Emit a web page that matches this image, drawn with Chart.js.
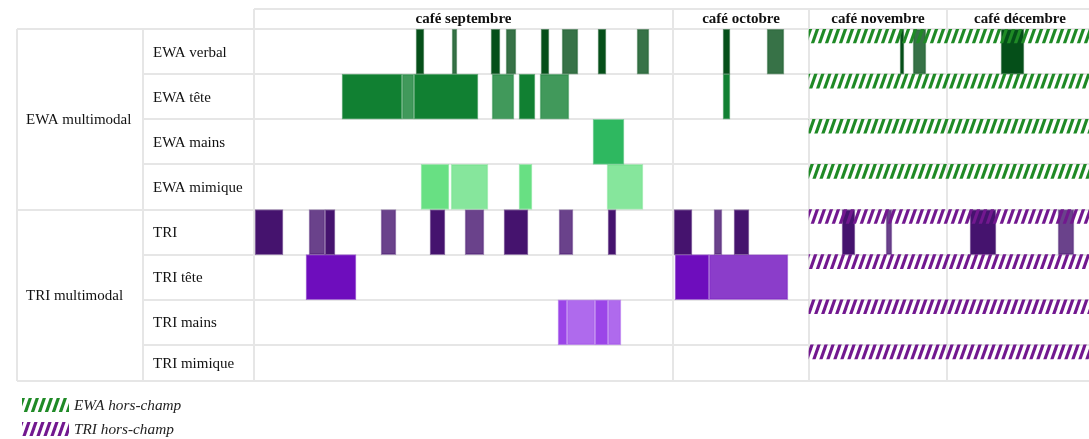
<!DOCTYPE html>
<html lang="fr">
<head>
<meta charset="utf-8">
<title>EWA / TRI multimodal</title>
<script src="https://cdn.jsdelivr.net/npm/chart.js@4.4.1/dist/chart.umd.min.js"></script>
<style>
  html, body { margin: 0; padding: 0; background: #fff; }
  #wrap { width: 1089px; height: 439px; }
</style>
</head>
<body>
<div id="wrap"><canvas id="timeline" width="1089" height="439"></canvas></div>
<script>
// Sessions along the time axis (seconds, aligned recordings)
const periods = ['café septembre', 'café octobre', 'café novembre', 'café décembre'];
const periodStarts = [0, 419, 555, 693];
const timelineEnd = 839;
const visibleEnd = 835;

const groups = ['EWA multimodal', 'TRI multimodal'];
const groupRows = [4, 4];
const rows = ['EWA verbal', 'EWA tête', 'EWA mains', 'EWA mimique', 'TRI', 'TRI tête', 'TRI mains', 'TRI mimique'];

// Annotated segments per tier, [start, end]; *Soft = lighter annotation
const ewaVerbal = [[162, 170], [237, 246], [287, 295], [344, 352], [469, 476], [646, 650], [747, 770]];
const ewaVerbalSoft = [[198, 203], [252, 262], [308, 324], [383, 395], [513, 530], [659, 672]];
const ewaTete = [[88, 148], [160, 224], [265, 281], [469, 476]];
const ewaTeteSoft = [[148, 160], [238, 260], [286, 315]];
const ewaMains = [[339, 370]];
const ewaMainsSoft = [];
const ewaMimique = [[167, 195], [265, 278]];
const ewaMimiqueSoft = [[197, 234], [353, 389]];
const tri = [[1, 29], [71, 81], [176, 191], [250, 274], [354, 362], [420, 438], [480, 495], [588, 601], [716, 742]];
const triSoft = [[55, 71], [127, 142], [211, 230], [305, 319], [460, 468], [632, 638], [804, 820]];
const triTete = [[52, 102], [421, 455]];
const triTeteSoft = [[455, 534]];
const triMains = [[304, 313], [341, 354]];
const triMainsSoft = [[313, 341], [354, 367]];
const triMimique = [];
const triMimiqueSoft = [];

// Off-camera spans
const ewaHorsChamp = [555, timelineEnd];
const triHorsChamp = [555, timelineEnd];

const FONT = "'Liberation Serif', 'Times New Roman', serif";
const LABEL_COL_X = 17;
const ROW_COL_X = 143;
const Y_MAX = 7.8;
const ROW_PX = 352 / Y_MAX;
const HATCH_PX = 14;

const canvas = document.getElementById('timeline');
const mainCtx = canvas.getContext('2d');

function rgba(c, a) { return `rgba(${c[0]}, ${c[1]}, ${c[2]}, ${a})`; }

// diagonal stripes, tile repeats cleanly both ways
function makeHatch(color) {
  const tile = document.createElement('canvas');
  tile.width = 7; tile.height = 20;
  const g = tile.getContext('2d');
  g.fillStyle = color;
  for (const o of [-7, 0, 7]) {
    g.beginPath();
    g.moveTo(o, 20);
    g.lineTo(o + 3.3, 20);
    g.lineTo(o + 10.3, 0);
    g.lineTo(o + 7, 0);
    g.closePath();
    g.fill();
  }
  return mainCtx.createPattern(tile, 'repeat');
}
const ewaHatch = makeHatch('#1f8a26');
const triHatch = makeHatch('#72188f');

const tiers = [
  [ewaVerbal, ewaVerbalSoft, [5, 79, 25]],
  [ewaTete, ewaTeteSoft, [17, 128, 50]],
  [ewaMains, ewaMainsSoft, [46, 184, 96]],
  [ewaMimique, ewaMimiqueSoft, [104, 224, 131]],
  [tri, triSoft, [69, 19, 110]],
  [triTete, triTeteSoft, [110, 13, 189]],
  [triMains, triMainsSoft, [155, 69, 232]],
  [triMimique, triMimiqueSoft, [190, 140, 240]]
];

function segs(list, row) {
  return list.map(([s, e]) => ({ x: [s, e], y: row + 0.5 }));
}

const datasets = [];
tiers.forEach(([solid, soft, c], row) => {
  datasets.push({
    label: rows[row], data: segs(solid, row), order: 1,
    backgroundColor: rgba(c, 1), borderColor: rgba(c, 0.55),
    borderWidth: 1, borderSkipped: false, barThickness: ROW_PX
  });
  datasets.push({
    label: rows[row] + ' (soft)', data: segs(soft, row), order: 1,
    backgroundColor: rgba(c, 0.8), borderColor: rgba(c, 0.45),
    borderWidth: 1, borderSkipped: false, barThickness: ROW_PX
  });
});

const hatchY = (HATCH_PX / 2) / ROW_PX;
datasets.push({
  label: 'EWA hors-champ', order: 0, barThickness: HATCH_PX, borderWidth: 0,
  data: [0, 1, 2, 3].map(r => ({ x: ewaHorsChamp, y: r + hatchY })),
  backgroundColor: ewaHatch
});
datasets.push({
  label: 'TRI hors-champ', order: 0, barThickness: HATCH_PX, borderWidth: 0,
  data: [4, 5, 6, 7].map(r => ({ x: triHorsChamp, y: r + hatchY })),
  backgroundColor: triHatch
});

// table grid, headers, tier names and legend
const tablePlugin = {
  id: 'table',
  beforeDatasetsDraw(chart) {
    const { ctx, chartArea: a, scales: { x, y } } = chart;
    const headTop = a.top - 20;
    const right = chart.width + 10;
    ctx.save();
    ctx.strokeStyle = '#e6e6e6';
    ctx.lineWidth = 2;
    ctx.beginPath();
    ctx.moveTo(a.left, headTop); ctx.lineTo(right, headTop);
    let groupStart = 0;
    const groupTops = new Set();
    groupRows.forEach(n => { groupTops.add(groupStart); groupStart += n; });
    rows.forEach((r, i) => {
      const py = Math.round(y.getPixelForValue(i));
      ctx.moveTo(groupTops.has(i) ? LABEL_COL_X : ROW_COL_X, py);
      ctx.lineTo(right, py);
    });
    ctx.moveTo(LABEL_COL_X, a.bottom); ctx.lineTo(right, a.bottom);
    ctx.moveTo(LABEL_COL_X, a.top); ctx.lineTo(LABEL_COL_X, a.bottom);
    ctx.moveTo(ROW_COL_X, a.top); ctx.lineTo(ROW_COL_X, a.bottom);
    periodStarts.forEach(s => {
      const px = Math.round(x.getPixelForValue(s));
      ctx.moveTo(px, headTop); ctx.lineTo(px, a.bottom);
    });
    ctx.stroke();
    ctx.restore();
  },
  afterDraw(chart) {
    const { ctx, chartArea: a, scales: { x, y } } = chart;
    ctx.save();
    ctx.fillStyle = '#111';
    ctx.textBaseline = 'middle';

    // session headers
    ctx.font = `bold 15px ${FONT}`;
    ctx.textAlign = 'center';
    periods.forEach((p, i) => {
      const s = periodStarts[i];
      const e = i + 1 < periodStarts.length ? periodStarts[i + 1] : timelineEnd;
      ctx.fillText(p, (x.getPixelForValue(s) + x.getPixelForValue(e)) / 2, a.top - 10);
    });

    // tier names
    ctx.font = `15px ${FONT}`;
    ctx.textAlign = 'left';
    rows.forEach((r, i) => {
      const cy = (y.getPixelForValue(i) + y.getPixelForValue(Math.min(i + 1, Y_MAX))) / 2;
      ctx.fillText(r, ROW_COL_X + 10, cy + 1);
    });

    // group names
    let start = 0;
    groups.forEach((gname, k) => {
      const end = Math.min(start + groupRows[k], Y_MAX);
      const cy = (y.getPixelForValue(start) + y.getPixelForValue(end)) / 2;
      ctx.fillText(gname, LABEL_COL_X + 9, cy + 1);
      start += groupRows[k];
    });

    // legend
    ctx.font = `italic 15.3px ${FONT}`;
    [['EWA hors-champ', ewaHatch], ['TRI hors-champ', triHatch]].forEach(([label, pat], k) => {
      const top = a.bottom + 17 + k * 24;
      ctx.fillStyle = pat;
      ctx.fillRect(22, top, 47, HATCH_PX);
      ctx.fillStyle = '#222';
      ctx.fillText(label, 74, top + 8);
    });
    ctx.restore();
  }
};

new Chart(canvas, {
  type: 'bar',
  data: { datasets },
  options: {
    indexAxis: 'y',
    responsive: false,
    animation: false,
    layout: { padding: { left: 254, top: 29, right: 0, bottom: 58 } },
    scales: {
      x: { type: 'linear', min: 0, max: visibleEnd, stacked: false, display: false },
      y: { type: 'linear', min: 0, max: Y_MAX, reverse: true, stacked: true, offset: false, display: false }
    },
    plugins: {
      legend: { display: false },
      tooltip: { enabled: false }
    }
  },
  plugins: [tablePlugin]
});
</script>
</body>
</html>
